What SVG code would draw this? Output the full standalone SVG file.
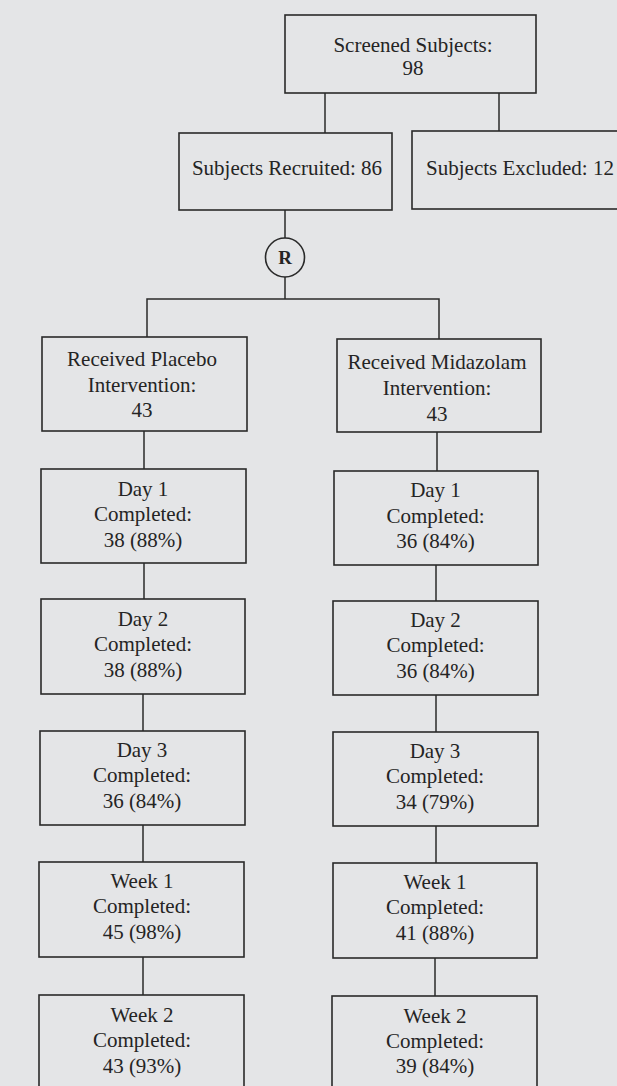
<svg xmlns="http://www.w3.org/2000/svg" width="617" height="1086" viewBox="0 0 617 1086">
<style>
.bg{fill:#e4e5e7}
.box{fill:none;stroke:#2a2a2a;stroke-width:1.6}
.ln{fill:none;stroke:#2a2a2a;stroke-width:1.5}
.t{font-family:"Liberation Serif","Times New Roman",serif;font-size:21px;fill:#242424;text-anchor:middle}
.r{font-family:"Liberation Serif","Times New Roman",serif;font-size:19px;font-weight:bold;fill:#242424;text-anchor:middle}
</style>
<rect class="bg" x="0" y="0" width="617" height="1086"/>
<g id="connectors">
<line class="ln" x1="325" y1="93" x2="325" y2="133"/>
<line class="ln" x1="499" y1="93" x2="499" y2="131"/>
<line class="ln" x1="285" y1="210" x2="285" y2="238"/>
<line class="ln" x1="285" y1="277" x2="285" y2="299"/>
<polyline class="ln" points="147,337 147,299 439,299 439,339"/>
<line class="ln" x1="144" y1="431" x2="144" y2="469"/>
<line class="ln" x1="437" y1="432" x2="437" y2="471"/>
<line class="ln" x1="144" y1="563" x2="144" y2="599"/>
<line class="ln" x1="436" y1="565" x2="436" y2="601"/>
<line class="ln" x1="143" y1="694" x2="143" y2="731"/>
<line class="ln" x1="436" y1="695" x2="436" y2="732"/>
<line class="ln" x1="143" y1="825" x2="143" y2="862"/>
<line class="ln" x1="436" y1="826" x2="436" y2="863"/>
<line class="ln" x1="143" y1="957" x2="143" y2="995"/>
<line class="ln" x1="435" y1="958" x2="435" y2="996"/>
</g>
<g id="screened">
<rect class="box" x="285" y="15" width="251" height="78"/>
<text class="t" x="413" y="52">Screened Subjects:</text>
<text class="t" x="413" y="75">98</text>
</g>
<g id="recruited">
<rect class="box" x="179" y="133" width="213" height="77"/>
<text class="t" x="287" y="175">Subjects Recruited: 86</text>
</g>
<g id="excluded">
<rect class="box" x="412" y="131" width="220" height="78"/>
<text class="t" x="520" y="175">Subjects Excluded: 12</text>
</g>
<g id="randomize">
<circle class="box" cx="285" cy="257.5" r="19.5"/>
<text class="r" x="285" y="264">R</text>
</g>
<g id="placebo">
<rect class="box" x="42" y="337" width="205" height="94"/>
<text class="t" x="142" y="366">Received Placebo</text>
<text class="t" x="142" y="392">Intervention:</text>
<text class="t" x="142" y="417">43</text>
</g>
<g id="midazolam">
<rect class="box" x="337" y="339" width="204" height="93"/>
<text class="t" x="437" y="369">Received Midazolam</text>
<text class="t" x="437" y="395">Intervention:</text>
<text class="t" x="437" y="421">43</text>
</g>
<g id="p-day1">
<rect class="box" x="41" y="469" width="205" height="94"/>
<text class="t" x="143" y="496">Day 1</text>
<text class="t" x="143" y="521">Completed:</text>
<text class="t" x="143" y="547">38 (88%)</text>
</g>
<g id="m-day1">
<rect class="box" x="334" y="471" width="204" height="94"/>
<text class="t" x="435.5" y="497">Day 1</text>
<text class="t" x="435.5" y="523">Completed:</text>
<text class="t" x="435.5" y="548">36 (84%)</text>
</g>
<g id="p-day2">
<rect class="box" x="41" y="599" width="204" height="95"/>
<text class="t" x="143" y="626">Day 2</text>
<text class="t" x="143" y="651">Completed:</text>
<text class="t" x="143" y="677">38 (88%)</text>
</g>
<g id="m-day2">
<rect class="box" x="333" y="601" width="205" height="94"/>
<text class="t" x="435.5" y="627">Day 2</text>
<text class="t" x="435.5" y="652">Completed:</text>
<text class="t" x="435.5" y="678">36 (84%)</text>
</g>
<g id="p-day3">
<rect class="box" x="40" y="731" width="205" height="94"/>
<text class="t" x="142" y="757">Day 3</text>
<text class="t" x="142" y="782">Completed:</text>
<text class="t" x="142" y="808">36 (84%)</text>
</g>
<g id="m-day3">
<rect class="box" x="333" y="732" width="205" height="94"/>
<text class="t" x="435" y="758">Day 3</text>
<text class="t" x="435" y="783">Completed:</text>
<text class="t" x="435" y="809">34 (79%)</text>
</g>
<g id="p-week1">
<rect class="box" x="39" y="862" width="205" height="95"/>
<text class="t" x="142" y="888">Week 1</text>
<text class="t" x="142" y="913">Completed:</text>
<text class="t" x="142" y="939">45 (98%)</text>
</g>
<g id="m-week1">
<rect class="box" x="333" y="863" width="204" height="95"/>
<text class="t" x="435" y="889">Week 1</text>
<text class="t" x="435" y="914">Completed:</text>
<text class="t" x="435" y="940">41 (88%)</text>
</g>
<g id="p-week2">
<rect class="box" x="39" y="995" width="205" height="100"/>
<text class="t" x="142" y="1022">Week 2</text>
<text class="t" x="142" y="1047">Completed:</text>
<text class="t" x="142" y="1073">43 (93%)</text>
</g>
<g id="m-week2">
<rect class="box" x="332" y="996" width="205" height="100"/>
<text class="t" x="435" y="1023">Week 2</text>
<text class="t" x="435" y="1048">Completed:</text>
<text class="t" x="435" y="1073">39 (84%)</text>
</g>
</svg>
